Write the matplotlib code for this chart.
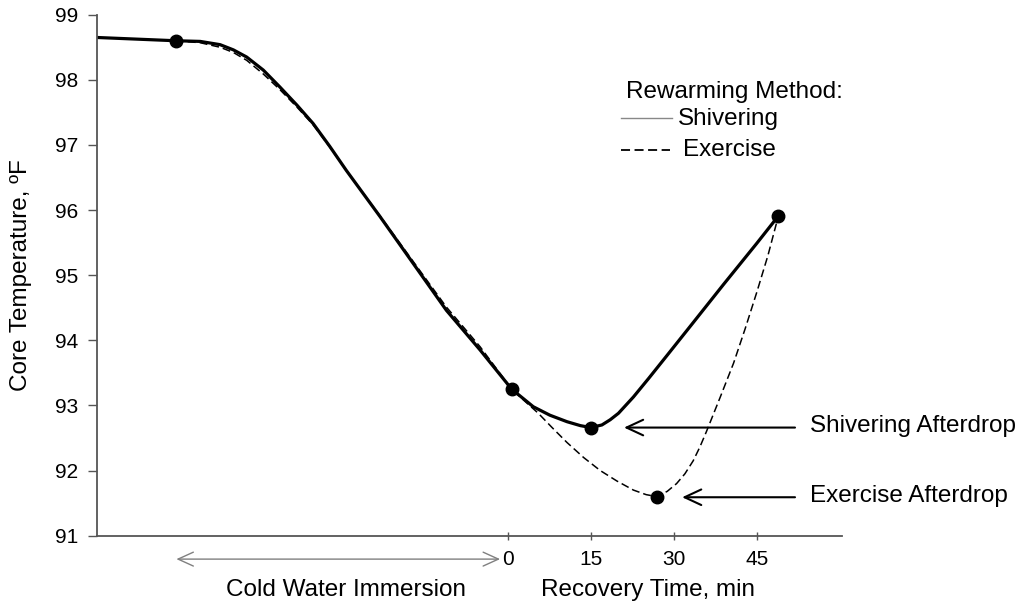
import matplotlib
matplotlib.use("Agg")
import matplotlib.pyplot as plt

plt.rcParams['font.family'] = ['Liberation Sans', 'DejaVu Sans']

# time in minutes (negative = during immersion), temperature in deg F
shiver_t = [-74.2, -60, -55.6, -52, -49.6, -47.2, -44.2, -41.2, -38.1, -35.2, -32.2,
            -29.2, -23.1, -17.1, -11.1, -5.0, 0.7, 4.6, 7.6, 10.7, 13.1, 15.0, 17.0,
            18.5, 20.0, 22.7, 25.5, 28.7, 33.2, 39.0, 45.0, 48.9]
shiver_temp = [98.65, 98.60, 98.59, 98.54, 98.46, 98.35, 98.15, 97.89, 97.61, 97.33,
               96.98, 96.61, 95.90, 95.18, 94.46, 93.85, 93.25, 92.98, 92.85, 92.75,
               92.69, 92.66, 92.70, 92.78, 92.88, 93.13, 93.42, 93.76, 94.24, 94.86,
               95.49, 95.91]

exercise_t = [-60, -55.6, -52, -49.6, -47.2, -44.2, -41.2, -38.1, -35.2, -32.2, -29.2,
              -23.1, -17.1, -11.1, -5.0, 0.7, 3.0, 5.5, 8.0, 10.7, 13.7, 16.7, 19.7,
              22.7, 25.0, 26.9, 28.8, 30.5, 32.0, 33.5, 34.7, 35.9, 38.4, 40.8, 42.9,
              45.0, 47.0, 48.9]
exercise_temp = [98.60, 98.57, 98.50, 98.42, 98.30, 98.09, 97.85, 97.58, 97.31, 96.97,
                 96.61, 95.91, 95.21, 94.51, 93.90, 93.25, 93.07, 92.88, 92.66, 92.43,
                 92.20, 92.00, 91.84, 91.70, 91.63, 91.60, 91.68, 91.80, 91.95, 92.15,
                 92.36, 92.60, 93.13, 93.65, 94.18, 94.74, 95.30, 95.91]

dot_t = [-60, 0.7, 15.0, 26.9, 48.9]
dot_temp = [98.60, 93.25, 92.66, 91.60, 95.91]

xticks = [0, 15, 30, 45]
yticks = [91, 92, 93, 94, 95, 96, 97, 98, 99]

fs = 17.5

fig = plt.figure(figsize=(10.26, 6.05), dpi=100)
ax = fig.add_axes([0.0948, 0.1146, 0.7259, 0.8611])

ax.plot(exercise_t, exercise_temp, color='black', lw=1.1, dashes=(5.2, 2.6))
ax.plot(shiver_t, shiver_temp, color='black', lw=2.3, solid_capstyle='round',
        solid_joinstyle='round')
ax.plot(dot_t, dot_temp, 'o', color='black', ms=9, zorder=5)

ax.set_xlim(-74.2, 60.4)
ax.set_ylim(91, 99)
ax.set_xticks(xticks)
ax.set_yticks(yticks)
ax.tick_params(axis='y', direction='out', length=6.5, width=1, color='#555555',
               labelsize=15, pad=7)
ax.tick_params(axis='x', direction='inout', length=6, width=1, color='#555555',
               labelsize=15, pad=7)
for s in ['top', 'right']:
    ax.spines[s].set_visible(False)
for s in ['left', 'bottom']:
    ax.spines[s].set_color('#555555')
    ax.spines[s].set_linewidth(1.3)

ax.set_ylabel('Core Temperature, ºF', fontsize=fs)
ax.yaxis.set_label_coords(-0.087, 0.5)

# labels under the axis
xf = ax.get_xaxis_transform()
ax.text(-29.2, -0.104, 'Cold Water Immersion', transform=xf, fontsize=fs,
        ha='center', va='center')
ax.text(25.3, -0.104, 'Recovery Time, min', transform=xf, fontsize=fs,
        ha='center', va='center')
ax.annotate('', xy=(-59.9, -0.045), xycoords=xf, xytext=(-1.4, -0.045),
            textcoords=xf, annotation_clip=False,
            arrowprops=dict(arrowstyle='<->,head_length=0.55,head_width=0.25',
                            color='#808080', lw=1, mutation_scale=20,
                            shrinkA=0, shrinkB=0))

# afterdrop arrows
ax.annotate('', xy=(21.0, 92.66), xytext=(51.9, 92.66), annotation_clip=False,
            arrowprops=dict(arrowstyle='->,head_length=0.6,head_width=0.28',
                            color='black', lw=1.5, mutation_scale=20,
                            shrinkA=0, shrinkB=0))
ax.annotate('', xy=(31.5, 91.59), xytext=(51.9, 91.59), annotation_clip=False,
            arrowprops=dict(arrowstyle='->,head_length=0.6,head_width=0.28',
                            color='black', lw=1.5, mutation_scale=20,
                            shrinkA=0, shrinkB=0))
ax.text(54.6, 92.68, 'Shivering Afterdrop', fontsize=fs, va='center', clip_on=False)
ax.text(54.6, 91.61, 'Exercise Afterdrop', fontsize=fs, va='center', clip_on=False)

# legend drawn by hand
ta = ax.transAxes
ax.text(0.7098, 0.8516, 'Rewarming Method:', transform=ta, fontsize=fs, va='center')
ax.plot([0.7028, 0.7713], [0.8008, 0.8008], transform=ta, color='#888888', lw=1)
ax.text(0.7797, 0.7990, 'Shivering', transform=ta, fontsize=fs, va='center')
ax.plot([0.7027, 0.7685], [0.7408, 0.7408], transform=ta, color='black', lw=1.3,
        dashes=(5, 2.5))
ax.text(0.7864, 0.7408, 'Exercise', transform=ta, fontsize=fs, va='center')

fig.savefig('out.png', dpi=100)
